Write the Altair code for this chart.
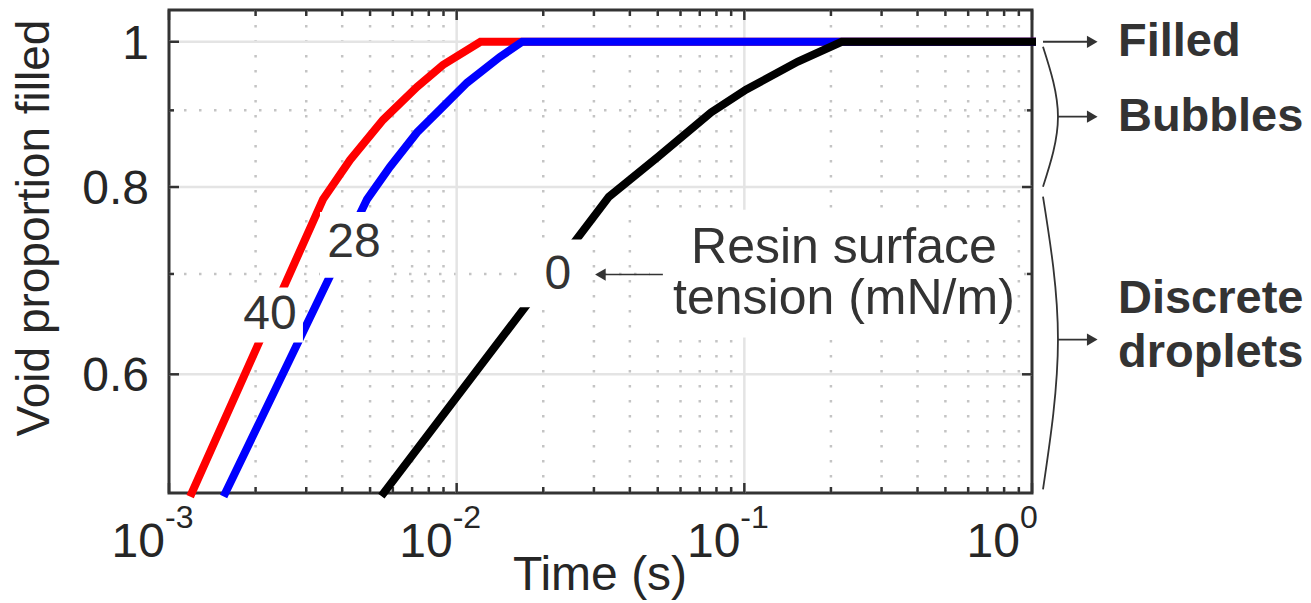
import altair as alt
import pandas as pd

# ---------------- data ----------------
red_time = [0.00120, 0.00343, 0.00426, 0.00555, 0.00728, 0.00896, 0.0121, 1.0]
red_fill = [0.50, 0.785, 0.834, 0.887, 0.933, 0.965, 1.0, 1.0]
blue_time = [0.00157, 0.00488, 0.00586, 0.00728, 0.00875, 0.01086, 0.01414, 0.0169, 1.0]
blue_fill = [0.50, 0.785, 0.825, 0.870, 0.901, 0.939, 0.977, 1.0, 1.0]
black_time = [0.00558, 0.0338, 0.0501, 0.0766, 0.1013, 0.1536, 0.218, 1.0]
black_fill = [0.50, 0.788, 0.838, 0.897, 0.929, 0.970, 1.0, 1.0]

x_major = [0.001, 0.01, 0.1, 1.0]
x_exponents = ["-3", "-2", "-1", "0"]
x_grid_major = [0.01, 0.1]
x_minor = [m * d for d in (0.001, 0.01, 0.1) for m in range(2, 10)]
y_major = [0.6, 0.8, 1.0]
y_labels = ["0.6", "0.8", "1"]
y_minor = [0.7, 0.9]

# in-plot curve labels (surface tension, mN/m)
curve_labels = ["40", "28", "0"]
curve_label_time = [0.002244, 0.004396, 0.02249]
curve_label_fill = [0.6577, 0.7345, 0.6994]

# ---------------- layout ----------------
W, H = 863, 483
LEFT, TOP = 169, 10
AX = "#333333"
TXT = "#262626"
NARROW = "Liberation Sans Narrow, Liberation Sans, Arial, sans-serif"
REG = "Liberation Sans, Arial, sans-serif"

xs = alt.Scale(type="log", domain=[0.001, 1.0], nice=False)
ys = alt.Scale(type="log", domain=[0.5, 1.05], nice=False)


def X(field):
    return alt.X(field, type="quantitative", scale=xs, axis=None)


def Y(field):
    return alt.Y(field, type="quantitative", scale=ys, axis=None)


def df(**kw):
    return pd.DataFrame(kw)


layers = []

# grid
layers.append(alt.Chart(df(t=x_minor)).mark_rule(color="#c4c4c4", strokeWidth=2.5, strokeDash=[2.5, 12.5])
              .encode(x=X("t"), y=alt.value(0), y2=alt.value(H)))
layers.append(alt.Chart(df(v=y_minor)).mark_rule(color="#c4c4c4", strokeWidth=2.5, strokeDash=[2.5, 12.5])
              .encode(y=Y("v"), x=alt.value(0), x2=alt.value(W)))
layers.append(alt.Chart(df(t=x_grid_major)).mark_rule(color="#e4e4e4", strokeWidth=2.5)
              .encode(x=X("t"), y=alt.value(0), y2=alt.value(H)))
layers.append(alt.Chart(df(v=y_major)).mark_rule(color="#e4e4e4", strokeWidth=2.5)
              .encode(y=Y("v"), x=alt.value(0), x2=alt.value(W)))

# ticks (inward, box style)
for vals, ln in ((x_major, 10), (x_minor, 6)):
    layers.append(alt.Chart(df(t=vals)).mark_rule(color=AX, strokeWidth=2.5)
                  .encode(x=X("t"), y=alt.value(H), y2=alt.value(H - ln)))
    layers.append(alt.Chart(df(t=vals)).mark_rule(color=AX, strokeWidth=2.5)
                  .encode(x=X("t"), y=alt.value(0), y2=alt.value(ln)))
for vals, ln in ((y_major, 10), (y_minor, 5)):
    layers.append(alt.Chart(df(v=vals)).mark_rule(color=AX, strokeWidth=2.5)
                  .encode(y=Y("v"), x=alt.value(0), x2=alt.value(ln)))
    layers.append(alt.Chart(df(v=vals)).mark_rule(color=AX, strokeWidth=2.5)
                  .encode(y=Y("v"), x=alt.value(W), x2=alt.value(W - ln)))

# curves
for tt, vv, col in ((red_time, red_fill, "#ff0000"),
                    (blue_time, blue_fill, "#0000ff"),
                    (black_time, black_fill, "#000000")):
    layers.append(alt.Chart(df(t=tt, v=vv)).mark_line(color=col, strokeWidth=8, strokeCap="square", clip=False)
                  .encode(x=X("t"), y=Y("v")))

# white label boxes (annotation geometry, data coordinates)
boxes = df(t1=[0.001696, 0.003349, 0.01633, 0.04698],
           t2=[0.002922, 0.005866, 0.0295, 0.8722],
           v1=[0.630, 0.696, 0.665, 0.6348],
           v2=[0.6855, 0.770, 0.738, 0.7727])
layers.append(alt.Chart(boxes).mark_rect(color="white")
              .encode(x=X("t1"), x2="t2", y=Y("v1"), y2="v2"))

# curve labels
layers.append(alt.Chart(df(lab=curve_labels, t=curve_label_time, v=curve_label_fill))
              .mark_text(font=REG, fontSize=48, color="#333333", baseline="middle", align="center")
              .encode(x=X("t"), y=Y("v"), text="lab:N"))

# resin surface tension note
layers.append(alt.Chart(df(txt=["Resin surface", "tension (mN/m)"], t=[0.2219, 0.2219], v=[0.712, 0.6587]))
              .mark_text(font=REG, fontSize=50, color="#333333", baseline="alphabetic", align="center")
              .encode(x=X("t"), y=Y("v"), text="txt:N"))
# arrow to "0"
layers.append(alt.Chart(df(t1=[0.0521], t2=[0.0318], v=[0.6994])).mark_rule(color="#333333", strokeWidth=1.6)
              .encode(x=X("t1"), x2="t2", y=Y("v")))
layers.append(alt.Chart(df(t=[0.0316], v=[0.6994])).mark_point(shape="triangle-left", filled=True, size=150,
                                                             color="#333333", opacity=1)
              .encode(x=X("t"), y=Y("v")))

# right-hand regime annotations
layers.append(alt.Chart(df(t1=[1.092, 1.231, 1.231], t2=[1.60, 1.60, 1.60], v=[1.0, 0.8913, 0.6329]))
              .mark_rule(color="#333333", strokeWidth=1.8)
              .encode(x=X("t1"), x2="t2", y=Y("v")))
layers.append(alt.Chart(df(t=[1.62, 1.62, 1.62], v=[1.0, 0.8913, 0.6329]))
              .mark_point(shape="triangle-right", filled=True, size=150, color="#333333", opacity=1)
              .encode(x=X("t"), y=Y("v")))
for ends in ((0.9924, 0.8913, 0.8003), (0.7882, 0.6329, 0.5028)):
    layers.append(alt.Chart(df(t=[1.092, 1.231, 1.092], v=list(ends)))
                  .mark_line(color="#333333", strokeWidth=1.8, interpolate="natural", clip=False)
                  .encode(x=X("t"), y=Y("v"), order=alt.Order("v:Q")))
layers.append(alt.Chart(df(txt=["Filled", "Bubbles", "Discrete", "droplets"], t=[1.99] * 4,
                           v=[1.0, 0.8913, 0.6737, 0.6203]))
              .mark_text(font=REG, fontSize=47, fontWeight="bold", color="#333333", align="left", baseline="middle")
              .encode(x=X("t"), y=Y("v"), text="txt:N"))

# axis tick labels
layers.append(alt.Chart(df(v=y_major, lab=y_labels))
              .mark_text(font=NARROW, fontSize=48, color=TXT, align="right", baseline="middle", dy=3)
              .encode(y=Y("v"), x=alt.value(-20), text="lab:N"))
xlab = df(t=x_major, e=x_exponents)
neg = alt.datum.e != "0"
pos = alt.datum.e == "0"
for cond, shift in ((neg, -4), (pos, -12)):
    layers.append(alt.Chart(xlab).transform_filter(cond)
                  .mark_text(font=NARROW, fontSize=48, color=TXT, align="right", baseline="alphabetic", dx=shift)
                  .encode(x=X("t"), y=alt.value(547), text=alt.value("10")))
    layers.append(alt.Chart(xlab).transform_filter(cond)
                  .mark_text(font=NARROW, fontSize=32, color=TXT, align="left", baseline="alphabetic", dx=shift)
                  .encode(x=X("t"), y=alt.value(518), text="e:N"))

# axis titles
layers.append(alt.Chart(df(lab=["Time (s)"]))
              .mark_text(font=NARROW, fontSize=48, color=TXT, align="center", baseline="alphabetic")
              .encode(x=alt.value(431), y=alt.value(580), text="lab:N"))
layers.append(alt.Chart(df(lab=["Void proportion filled"]))
              .mark_text(font=NARROW, fontSize=46, color=TXT, align="center", baseline="middle", angle=270)
              .encode(x=alt.value(-134), y=alt.value(218), text="lab:N"))

chart = alt.layer(*layers).properties(
    width=W, height=H,
    autosize=alt.AutoSizeParams(type="none"),
    padding={"left": LEFT, "top": TOP, "right": 1311 - LEFT - W, "bottom": 603 - TOP - H},
    background="white",
).configure_view(stroke=AX, strokeWidth=3)

chart.save("out.html", embed_options={"renderer": "svg", "actions": False})
